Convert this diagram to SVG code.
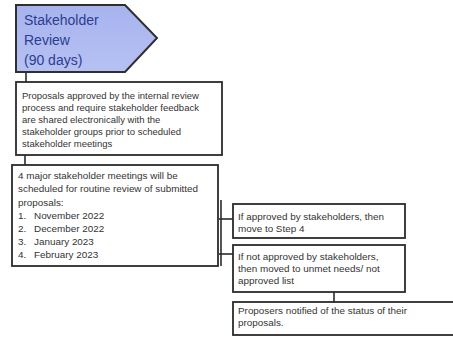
<svg xmlns="http://www.w3.org/2000/svg" width="453" height="339" viewBox="0 0 453 339">
<defs>
<linearGradient id="g" x1="0" y1="0" x2="0" y2="1">
<stop offset="0" stop-color="#a7b3ee"/>
<stop offset="1" stop-color="#b6c1f3"/>
</linearGradient>
<style>
.box{fill:#ffffff;stroke:#2b2b2b;stroke-width:1.8}
.t{font-family:"Liberation Sans",Arial,sans-serif;font-size:9.9px;fill:#333}
.s{font-size:9.5px}
.h{font-family:"Liberation Sans",Arial,sans-serif;font-size:14px;fill:#2e3d8f}
.c{stroke:#2b2b2b;stroke-width:1.6;fill:none}
</style>
</defs>
<rect width="453" height="339" fill="#ffffff"/>
<g id="connectors">
<line class="c" x1="26" y1="72" x2="26" y2="82"/>
<line class="c" x1="25" y1="155" x2="25" y2="165"/>
<line class="c" x1="219" y1="219" x2="233" y2="219"/>
<line class="c" x1="219" y1="254" x2="233" y2="254"/>
<line class="c" x1="221" y1="200" x2="221" y2="266"/>
<line class="c" x1="334" y1="292" x2="334" y2="302"/>
</g>
<g id="stage">
<polygon points="16,5 125,5 157,38 125,72 16,72" fill="url(#g)" stroke="#2f2f2f" stroke-width="2"/>
<text class="h" x="24" y="25">Stakeholder</text>
<text class="h" x="24" y="45">Review</text>
<text class="h" x="24" y="65">(90 days)</text>
</g>
<g id="share">
<rect class="box" x="16" y="82" width="206" height="73"/>
<text class="t s" x="22" y="98.5">Proposals approved by the internal review</text>
<text class="t s" x="22" y="110.5">process and require stakeholder feedback</text>
<text class="t s" x="22" y="122.5">are shared electronically with the</text>
<text class="t s" x="22" y="134.5">stakeholder groups prior to scheduled</text>
<text class="t s" x="22" y="146.5">stakeholder meetings</text>
</g>
<g id="meetings">
<rect class="box" x="12" y="165" width="206" height="101"/>
<text class="t" x="18" y="178.5">4 major stakeholder meetings will be</text>
<text class="t" x="18" y="192">scheduled for routine review of submitted</text>
<text class="t" x="18" y="205.5">proposals:</text>
<text class="t" x="18" y="218.5">1.</text><text class="t" x="34" y="218.5">November 2022</text>
<text class="t" x="18" y="231.5">2.</text><text class="t" x="34" y="231.5">December 2022</text>
<text class="t" x="18" y="244.5">3.</text><text class="t" x="34" y="244.5">January 2023</text>
<text class="t" x="18" y="257.5">4.</text><text class="t" x="34" y="257.5">February 2023</text>
</g>
<g id="approved">
<rect class="box" x="233" y="204" width="172" height="34"/>
<text class="t" x="238" y="219.5">If approved by stakeholders, then</text>
<text class="t" x="238" y="231.5">move to Step 4</text>
</g>
<g id="notapproved">
<rect class="box" x="233" y="245" width="172" height="47"/>
<text class="t" x="238" y="259.5">If not approved by stakeholders,</text>
<text class="t" x="238" y="271.5">then moved to unmet needs/ not</text>
<text class="t" x="238" y="283.5">approved list</text>
</g>
<g id="notify">
<rect class="box" x="233" y="302" width="230" height="33"/>
<text class="t" x="238" y="314">Proposers notified of the status of their</text>
<text class="t" x="238" y="326">proposals.</text>
</g>
</svg>
